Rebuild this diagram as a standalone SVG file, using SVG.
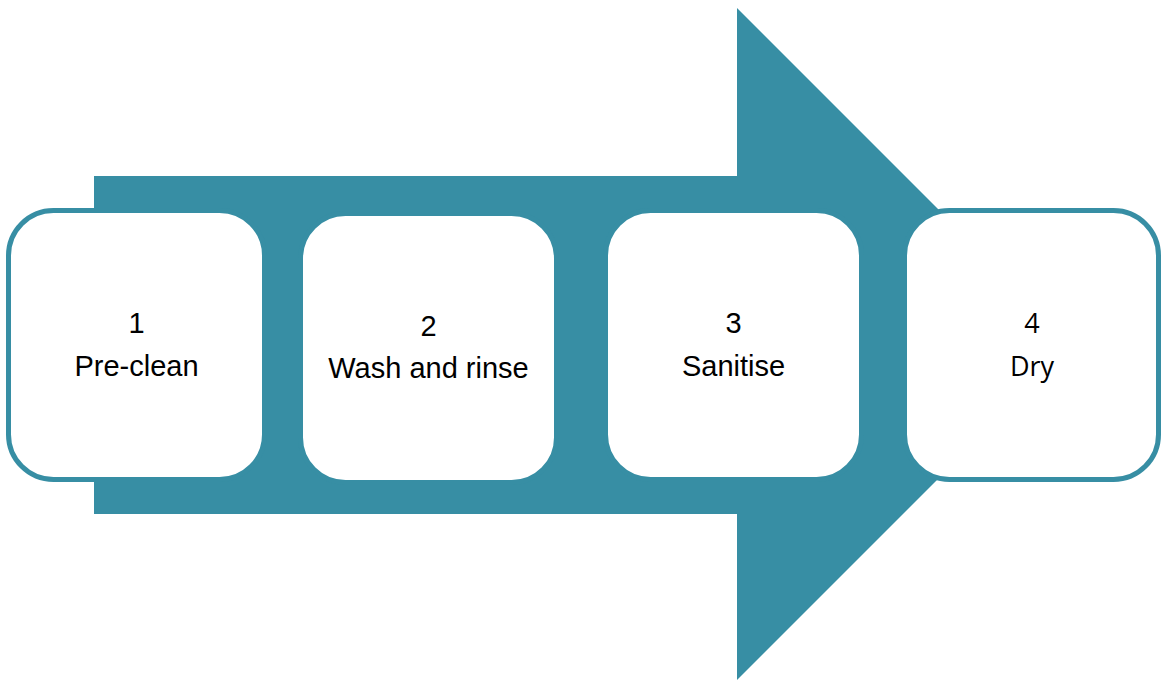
<svg xmlns="http://www.w3.org/2000/svg" width="1161" height="680" viewBox="0 0 1161 680">
<style>
.box{fill:#ffffff;stroke:#378ea4;stroke-width:5}
.t{font-family:"Liberation Sans",Arial,sans-serif;font-size:29px;fill:#000;text-anchor:middle}
.t4{font-family:"Open Sans","Noto Sans",sans-serif;font-size:27px;fill:#000;text-anchor:middle}
</style>
<rect width="1161" height="680" fill="#ffffff"/>
<g id="arrow">
<polygon points="94,176 737,176 737,8 1073,344 737,680 737,514 94,514" fill="#378ea4"/>
</g>
<g id="node1">
<rect class="box" x="8.5" y="210.5" width="256" height="269" rx="45"/>
<text class="t" x="136.5" y="333">1</text>
<text class="t" x="136.5" y="376">Pre-clean</text>
</g>
<g id="node2">
<rect class="box" x="300.5" y="213.5" width="256" height="269" rx="45"/>
<text class="t" x="428.5" y="336">2</text>
<text class="t" x="428.5" y="378">Wash and rinse</text>
</g>
<g id="node3">
<rect class="box" x="605.5" y="210.5" width="256" height="269" rx="45"/>
<text class="t" x="733.5" y="333">3</text>
<text class="t" x="733.5" y="376">Sanitise</text>
</g>
<g id="node4">
<rect class="box" x="904.5" y="210.5" width="254" height="269" rx="45"/>
<text class="t4" x="1032" y="333">4</text>
<text class="t4" x="1032" y="376">Dry</text>
</g>
</svg>
